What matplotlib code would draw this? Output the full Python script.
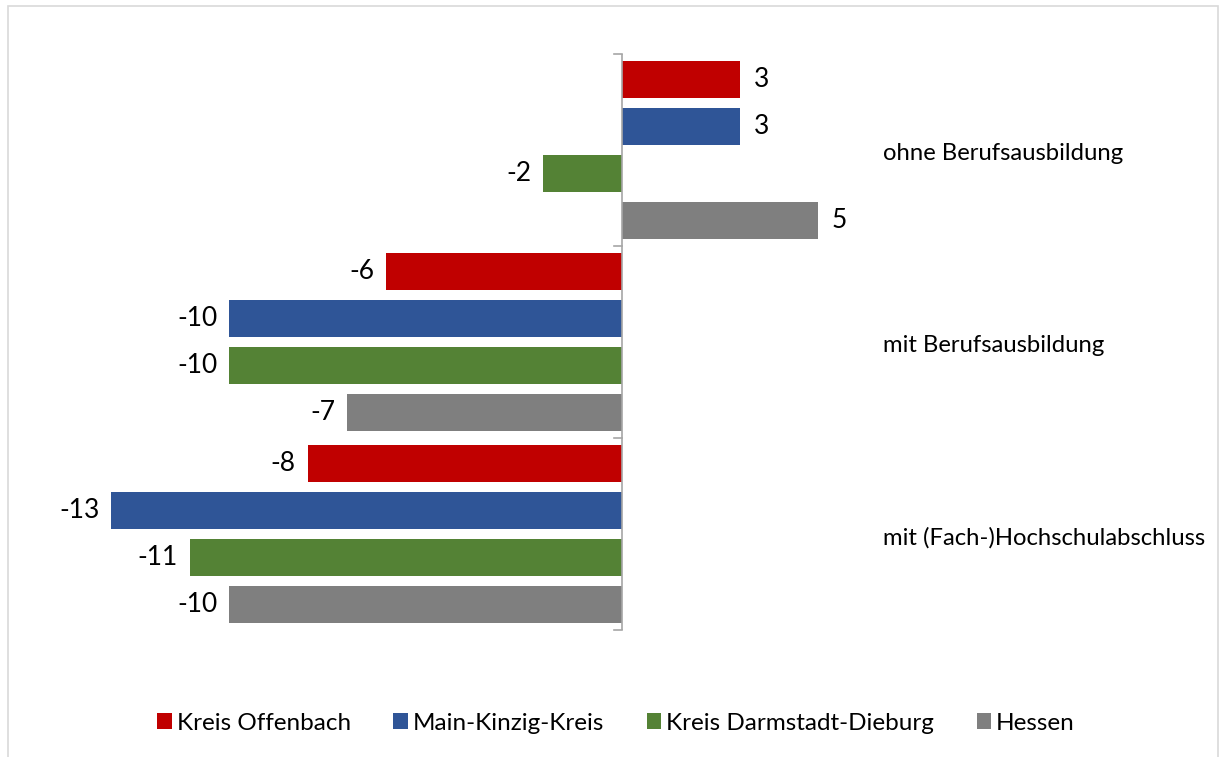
import matplotlib
matplotlib.use("Agg")
import matplotlib.pyplot as plt
from matplotlib.patches import Rectangle
import numpy as np

categories = ["ohne Berufsausbildung", "mit Berufsausbildung", "mit (Fach-)Hochschulabschluss"]
series_names = ["Kreis Offenbach", "Main-Kinzig-Kreis", "Kreis Darmstadt-Dieburg", "Hessen"]
kreis_offenbach = [3, -6, -8]
main_kinzig = [3, -10, -13]
darmstadt_dieburg = [-2, -10, -11]
hessen = [5, -7, -10]
colors = ["#C00000", "#2F5597", "#548235", "#7F7F7F"]

series = [kreis_offenbach, main_kinzig, darmstadt_dieburg, hessen]

plt.rcParams['font.family'] = ['Lato', 'DejaVu Sans']

W, H = 1222, 757
fig = plt.figure(figsize=(W / 100, H / 100), dpi=100)
# axes: x from 72px to 936px, y from 54px to 630px
ax = fig.add_axes([72 / W, (H - 630) / H, 864 / W, 576 / H])

pitch = 0.245
height = 0.194
n = len(categories)
for j, (vals, col, name) in enumerate(zip(series, colors, series_names)):
    ys = [i + (j - 1.5) * pitch for i in range(n)]
    ax.barh(ys, vals, height=height, color=col, label=name, zorder=2)
    for y, v in zip(ys, vals):
        if v >= 0:
            ax.text(v + 0.35, y, f"{v}", va="center", ha="left", fontsize=19, color="#000000")
        else:
            ax.text(v - 0.3, y, f"{v}", va="center", ha="right", fontsize=19, color="#000000")

ax.set_xlim(-14, 8)
ax.set_ylim(n - 0.5, -0.5)

for s in ax.spines.values():
    s.set_visible(False)
ax.set_xticks([])
ax.set_yticks([])

# vertical category axis at x=0 with tick marks at boundaries
ax.axvline(0, color="#A6A6A6", lw=1.2, zorder=3)
for b in np.arange(-0.5, n, 1.0):
    ax.plot([-0.2, 0], [b, b], color="#A6A6A6", lw=1.2, zorder=3, clip_on=False)

# category labels at the right side
for i, c in enumerate(categories):
    ax.text(6.64, i + 0.02, c, va="center", ha="left", fontsize=17.2, color="#000000")

leg = fig.legend(loc="center", bbox_to_anchor=(616 / W, 1 - 723 / H), ncol=4, frameon=False,
                 fontsize=17.5, handlelength=0.6, handleheight=0.6, handletextpad=0.2,
                 columnspacing=1.75)

# light grey chart border
fig.patches.append(Rectangle((8 / W, -0.05), (1218 - 8) / W, 1 - 6 / H + 0.05,
                             transform=fig.transFigure, fill=False,
                             edgecolor="#D9D9D9", lw=1.2))

fig.savefig("out.png", dpi=100, facecolor="white")
